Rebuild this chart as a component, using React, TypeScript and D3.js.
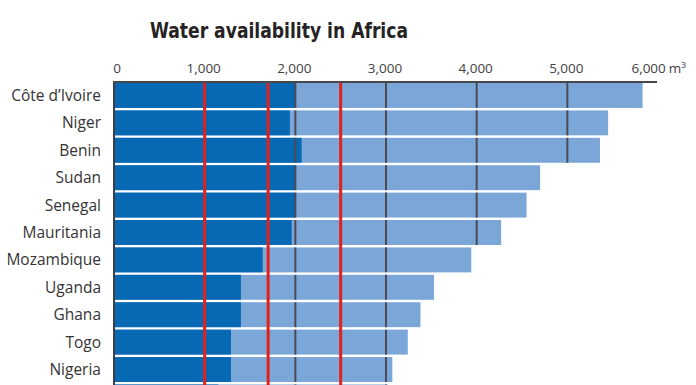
import * as d3 from 'd3'
import React, { useEffect, useRef } from 'react'

const countries = [
  'Côte d’Ivoire',
  'Niger',
  'Benin',
  'Sudan',
  'Senegal',
  'Mauritania',
  'Mozambique',
  'Uganda',
  'Ghana',
  'Togo',
  'Nigeria',
  'Burkina Faso'
]
// light bars (longer) and dark bars, m3 per person per year
const lightValues = [5830, 5450, 5360, 4700, 4550, 4270, 3940, 3530, 3380, 3240, 3070, 3020]
const darkValues = [2000, 1940, 2070, 2000, 2000, 1960, 1640, 1400, 1400, 1290, 1290, 1150]
const tickValues = [0, 1000, 2000, 3000, 4000, 5000, 6000]
const gridValues = [2000, 3000, 4000, 5000]
const redValues = [1000, 1700, 2500]

export default function App() {
  const sandbox = useRef<SVGSVGElement>(null)

  useEffect(() => {
    const svg = d3.select(sandbox.current)
    svg.selectAll('*').remove()

    const height = +svg.attr('height')
    const x = d3.scaleLinear().domain([0, 6000]).range([114, 658])
    const y = d3
      .scaleBand<string>()
      .domain(countries)
      .range([83, 83 + 12 * 27.2])
      .paddingInner(0.09)
      .paddingOuter(0)

    const labelFont = '"Open Sans", sans-serif'

    //title
    svg
      .append('text')
      .attr('x', 150)
      .attr('y', 38)
      .attr('font-family', '"DejaVu Sans Condensed", "DejaVu Sans", sans-serif')
      .attr('font-weight', 'bold')
      .attr('font-size', 21)
      .attr('fill', '#262324')
      .attr('textLength', 258)
      .attr('lengthAdjust', 'spacingAndGlyphs')
      .text('Water availability in Africa')

    //tick labels
    tickValues.forEach((t, i) => {
      const last = i === tickValues.length - 1
      const txt = svg
        .append('text')
        .attr('x', t === 0 ? x(t) + 3 : last ? x(t) + 28 : x(t) - 1)
        .attr('y', 73)
        .attr('text-anchor', last ? 'end' : 'middle')
        .attr('font-family', labelFont)
        .attr('font-size', 13.5)
        .attr('fill', '#444142')
        .text(d3.format(',')(t))
      if (last) txt.append('tspan').attr('dx', 3).text('m³')
    })

    //light bars
    svg
      .selectAll('rect.light')
      .data(countries)
      .join('rect')
      .attr('class', 'light')
      .attr('x', x(0))
      .attr('y', d => y(d)!)
      .attr('width', (d, i) => x(lightValues[i]) - x(0))
      .attr('height', y.bandwidth())
      .attr('fill', '#7ba6d8')

    //dark bars
    svg
      .selectAll('rect.dark')
      .data(countries)
      .join('rect')
      .attr('class', 'dark')
      .attr('x', x(0))
      .attr('y', d => y(d)!)
      .attr('width', (d, i) => x(darkValues[i]) - x(0))
      .attr('height', y.bandwidth())
      .attr('fill', '#0769b4')

    //grid lines inside the bars
    countries.forEach((c, i) => {
      gridValues
        .filter(g => lightValues[i] > g)
        .forEach(g => {
          svg
            .append('line')
            .attr('x1', x(g))
            .attr('x2', x(g))
            .attr('y1', y(c)!)
            .attr('y2', y(c)! + y.bandwidth())
            .attr('stroke', '#4b4a55')
            .attr('stroke-width', 2)
        })
    })

    //red lines
    redValues.forEach(r => {
      svg
        .append('line')
        .attr('x1', x(r))
        .attr('x2', x(r))
        .attr('y1', 82)
        .attr('y2', 400)
        .attr('stroke', '#e3201b')
        .attr('stroke-width', 3)
    })

    //axes
    svg
      .append('line')
      .attr('x1', x(0))
      .attr('x2', x(0))
      .attr('y1', 82)
      .attr('y2', 400)
      .attr('stroke', '#3f3d45')
      .attr('stroke-width', 2)
    svg
      .append('line')
      .attr('x1', x(0) - 1)
      .attr('x2', 657)
      .attr('y1', 82)
      .attr('y2', 82)
      .attr('stroke', '#4a4748')
      .attr('stroke-width', 2)

    //country labels (the last row is cut off by the frame, its label too)
    svg
      .selectAll('text.country')
      .data(countries.filter(d => y(d)! + y.bandwidth() < height))
      .join('text')
      .attr('class', 'country')
      .attr('x', 101)
      .attr('y', d => y(d)! + y.bandwidth() / 2 + 5.5)
      .attr('text-anchor', 'end')
      .attr('font-family', labelFont)
      .attr('font-size', 15.5)
      .attr('fill', '#363334')
      .text(d => d)
  }, [sandbox])

  return (
    <svg
      ref={sandbox}
      width="696"
      height="385"
      style={{ position: 'absolute', left: 0, top: 0, background: '#fff' }}
    />
  )
}
